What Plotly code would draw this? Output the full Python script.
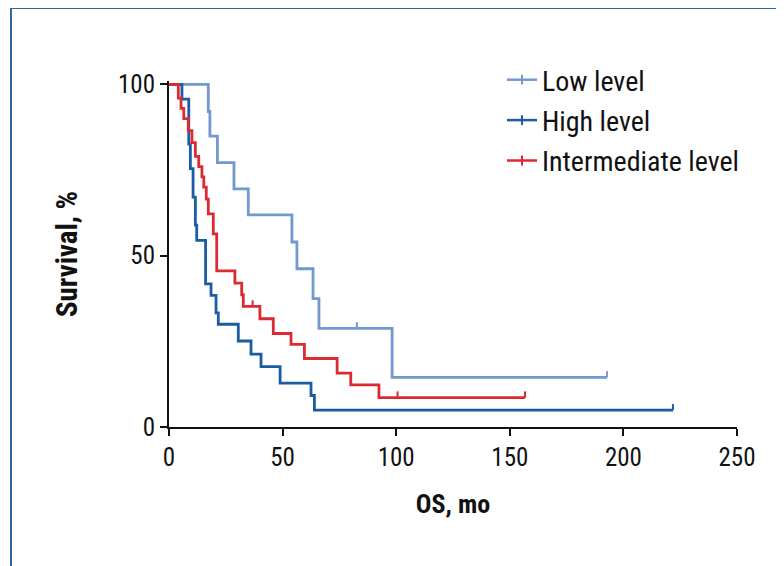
import plotly.graph_objects as go

# ---------------- data ----------------
low_t = [0, 17.3, 18.0, 21.3, 28.6, 34.9, 54.1, 56.3, 63.4, 66.0, 98.2, 192.8]
low_s = [100, 92.1, 84.9, 77.2, 69.5, 61.9, 54.0, 46.2, 37.5, 28.8, 14.5, 14.5]
low_cens_t = [82.7, 192.8]
low_cens_s = [28.8, 14.5]

high_t = [0, 5.7, 8.7, 9.4, 10.6, 11.6, 12.2, 16.1, 18.5, 20.7, 21.7, 30.5, 36.1, 40.5, 48.9, 62.5, 64.0, 221.8]
high_s = [100, 95.7, 82.6, 75.4, 67.1, 58.9, 54.5, 41.8, 38.4, 33.3, 30.0, 25.1, 21.3, 17.6, 12.8, 9.2, 4.9, 4.9]
high_cens_t = [221.8]
high_cens_s = [4.9]

int_t = [0, 4.1, 5.3, 6.5, 8.5, 10.1, 11.6, 13.1, 14.5, 15.3, 16.4, 17.3, 19.5, 21.0, 29.0, 32.0, 32.7,
         40.0, 45.9, 53.7, 59.6, 74.0, 80.0, 92.4, 156.7]
int_s = [100, 96.0, 93.0, 90.0, 86.5, 83.0, 79.0, 76.0, 73.0, 70.0, 66.5, 62.2, 56.4, 45.6, 42.0, 38.6, 35.2,
         31.6, 27.3, 24.1, 20.0, 15.7, 12.3, 8.6, 8.6]
int_cens_t = [36.8, 100.6, 156.7]
int_cens_s = [35.2, 8.6, 8.6]

series_names = ["Low level", "High level", "Intermediate level"]
x_ticks = [0, 50, 100, 150, 200, 250]
y_ticks = [0, 50, 100]

# ---------------- style ----------------
colors = ["#7398cd", "#1b5ca3", "#dc2a33"]
FONT = "Roboto Condensed, Liberation Sans Narrow, Arial Narrow, DejaVu Sans Condensed, sans-serif"
TICK_UP = 1.8  # censor tick height in y units

fig = go.Figure()

series = [
    (low_t, low_s, low_cens_t, low_cens_s),
    (high_t, high_s, high_cens_t, high_cens_s),
    (int_t, int_s, int_cens_t, int_cens_s),
]

for name, col, (t, s, ct, cs) in zip(series_names, colors, series):
    fig.add_trace(go.Scatter(x=t, y=s, mode="lines", line=dict(color=col, width=2.8, shape="hv"),
                             showlegend=False, hoverinfo="skip"))
    cx, cy = [], []
    for a, b in zip(ct, cs):
        cx += [a, a, None]
        cy += [b, b + TICK_UP, None]
    fig.add_trace(go.Scatter(x=cx, y=cy, mode="lines", line=dict(color=col, width=2),
                             showlegend=False, hoverinfo="skip"))

for i, (name, col) in enumerate(zip(series_names, colors)):
    fig.add_trace(go.Scatter(x=[None], y=[None], mode="lines+markers", name=name,
                             legendgroup=f"g{i}",
                             line=dict(color=col, width=2.5),
                             marker=dict(symbol="line-ns", size=7, line=dict(color=col, width=2))))

# page offset of the figure (body margin) is 8px; positions below are in figure pixels
L, R, T, B = 161, 55, 73, 147
W, H = 784, 566
pw = W - L - R
ph = H - T - B

def px_x(p):
    return (p - L) / pw

def px_y(p):
    return (H - B - p) / ph

fig.add_shape(type="path", xref="paper", yref="paper",
              path=f"M {px_x(3)},{px_y(700)} L {px_x(3)},{px_y(0)} L {px_x(900)},{px_y(0)}",
              line=dict(color="#2a66a8", width=2))

fig.update_layout(
    width=W, height=H,
    margin=dict(l=L, r=R, t=T, b=B),
    paper_bgcolor="white", plot_bgcolor="white",
    font=dict(family=FONT, size=25, color="#111111"),
    legend=dict(x=px_x(494), y=px_y(47), xanchor="left", yanchor="top",
                bgcolor="rgba(0,0,0,0)", tracegroupgap=1,
                font=dict(family=FONT, size=28, color="#111111")),
    xaxis=dict(range=[0, 250], tickvals=x_ticks, ticks="outside", ticklen=7, tickwidth=2,
               tickcolor="#111111", showline=True, linecolor="#111111", linewidth=2,
               showgrid=False, zeroline=False, tickfont=dict(size=25),
               title=dict(text="<b>OS, mo</b>", standoff=24,
                          font=dict(family=FONT, size=26))),
    yaxis=dict(range=[0, 101], tickvals=y_ticks, ticks="outside", ticklen=7, tickwidth=2,
               tickcolor="#111111", showline=True, linecolor="#111111", linewidth=2,
               showgrid=False, zeroline=False, tickfont=dict(size=25),
               title=dict(text="<b>Survival, %</b>", standoff=32,
                          font=dict(family=FONT, size=29))),
)

fig.write_html("out.html")
